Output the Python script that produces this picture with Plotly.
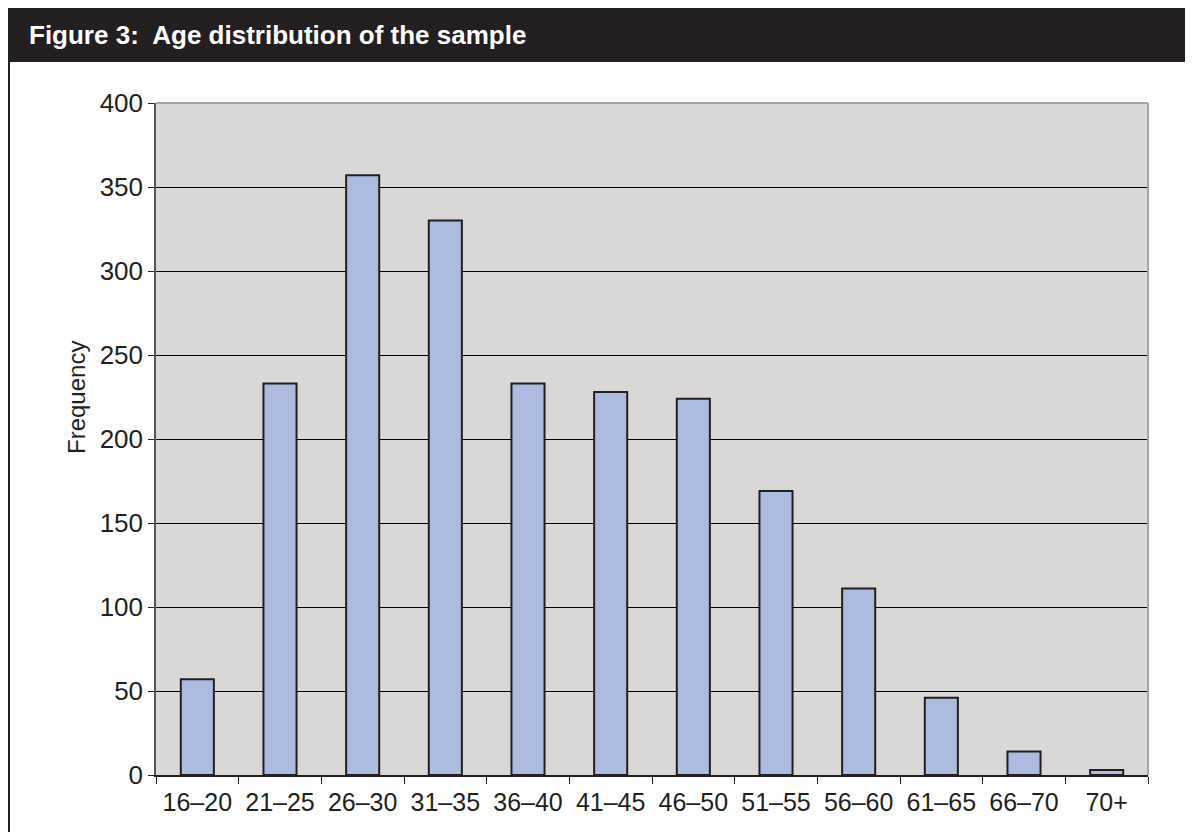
import plotly.graph_objects as go

categories = ["16–20", "21–25", "26–30", "31–35", "36–40", "41–45",
              "46–50", "51–55", "56–60", "61–65", "66–70", "70+"]
frequency = [57, 233, 357, 330, 233, 228, 224, 169, 111, 46, 14, 3]
y_ticks = [0, 50, 100, 150, 200, 250, 300, 350, 400]

# the page body has an 8px margin; work in window pixels and shift
OFF = 8
WIN_W, WIN_H = 1193, 832
W, H = WIN_W - OFF, WIN_H - OFF
L, R, T, B = 156 - OFF, 1148 - OFF, 103 - OFF, 775 - OFF
pw, ph = R - L, B - T


def px_x(x):
    return (x - OFF - L) / pw


def px_y(y):
    return (B - (y - OFF)) / ph


dark = "#231F20"
FONT = "Liberation Sans, Arial, sans-serif"

fig = go.Figure()
fig.add_trace(go.Bar(
    x=categories, y=frequency,
    marker=dict(color="#ADBBE0", line=dict(color=dark, width=2)),
    width=0.4,
))

shapes = [
    dict(type="rect", xref="paper", yref="paper",
         x0=px_x(6), x1=px_x(WIN_W + 5), y0=px_y(62), y1=px_y(6),
         fillcolor=dark, line=dict(width=0), layer="above"),
    dict(type="line", xref="paper", yref="paper",
         x0=px_x(8.5), x1=px_x(8.5), y0=px_y(62), y1=px_y(WIN_H + 5),
         line=dict(color=dark, width=3), layer="above"),
    dict(type="line", xref="paper", yref="paper",
         x0=0, x1=1, y0=1, y1=1,
         line=dict(color="#A6A6A6", width=2), layer="above"),
    dict(type="line", xref="paper", yref="paper",
         x0=1, x1=1, y0=0, y1=1,
         line=dict(color="#A6A6A6", width=2), layer="above"),
]

fig.update_layout(
    width=W, height=H,
    margin=dict(l=L, r=W - R, t=T, b=H - B),
    paper_bgcolor="white",
    plot_bgcolor="#D9D8D6",
    showlegend=False,
    bargap=0.6,
    font=dict(family=FONT, color=dark, size=25),
    shapes=shapes,
    annotations=[
        dict(text="<b>Figure 3:  Age distribution of the sample</b>",
             xref="paper", yref="paper", x=px_x(27), y=px_y(35),
             xanchor="left", yanchor="middle", showarrow=False,
             font=dict(family=FONT, size=26, color="white")),
        dict(text="Frequency", textangle=-90,
             xref="paper", yref="paper", x=px_x(76), y=px_y(398),
             xanchor="center", yanchor="middle", showarrow=False,
             font=dict(family=FONT, size=24, color=dark)),
    ],
)

fig.update_xaxes(
    type="category", tickson="boundaries", ticks="outside", ticklen=7,
    tickcolor=dark, showline=True, linecolor=dark, linewidth=1.5,
    showgrid=False, tickfont=dict(size=25, color=dark),
    ticklabelstandoff=4,
)
fig.update_yaxes(
    range=[0, 400], tickvals=y_ticks, ticks="outside", ticklen=6,
    tickcolor=dark, showline=True, linecolor="#555555", linewidth=1.5,
    showgrid=True, gridcolor="#000000", gridwidth=1, zeroline=False,
    tickfont=dict(size=26, color=dark),
)

fig.write_html("out.html")
